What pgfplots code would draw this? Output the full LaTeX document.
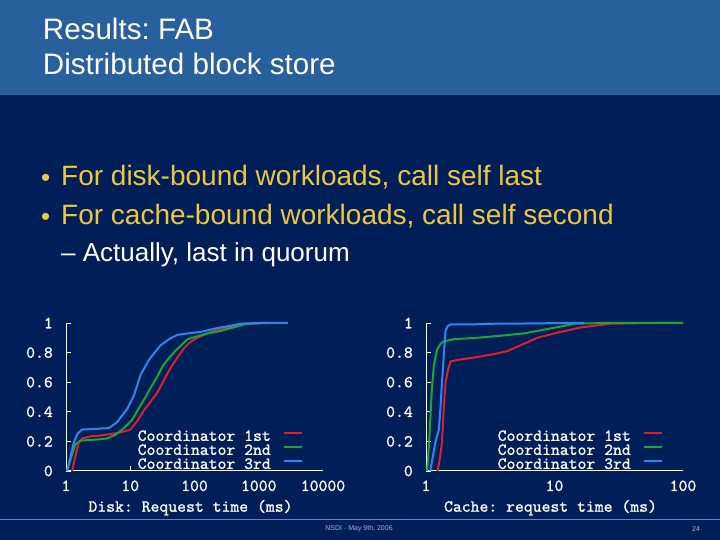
\documentclass[border=0pt]{standalone}
\usepackage{fontspec}
\setmainfont{Liberation Sans}
\newfontfamily\mono{lmmono10-regular.otf}[FakeBold=1]
\usepackage{pgfplots}
\pgfplotsset{compat=1.18}

\definecolor{bodyblue}{RGB}{0,30,87}
\definecolor{titleblue}{RGB}{40,95,157}
\definecolor{bullety}{RGB}{238,198,64}
\definecolor{footline}{RGB}{95,135,195}
\definecolor{foottext}{RGB}{165,178,210}
\definecolor{c1}{RGB}{225,30,45}
\definecolor{c2}{RGB}{30,165,55}
\definecolor{c3}{RGB}{45,135,240}

\pgfplotsset{
  cdf/.style={
    scale only axis, width=257pt, height=148pt,
    ymin=0, ymax=1,
    axis x line=bottom, axis y line=left,
    axis line style={white, -, line width=1pt},
    tick style={white, line width=0.8pt},
    major tick length=5pt, minor tick length=0pt, tick align=inside,
    extra x tick style={major tick length=0pt},
    ytick={0,0.2,0.4,0.6,0.8,1},
    yticklabels={0,0.2,0.4,0.6,0.8,1},
    tick label style={font=\mono\fontsize{16.9}{17}\selectfont, text=white, inner sep=0pt},
    yticklabel style={anchor=east, xshift=-13pt},
    xticklabel style={anchor=base, yshift=-20pt},
    every axis x label/.style={at={(axis description cs:0.5,0)}, anchor=base,
      yshift=-40.7pt, xshift=-4pt, inner sep=0pt,
      font=\mono\fontsize{16.9}{17}\selectfont, text=white},
    clip=false,
    legend plot pos=right, legend cell align=left,
    legend image code/.code={\draw[##1] (0pt,3.5pt) -- (17.7pt,3.5pt);},
    legend style={at={(0.921,0.269)}, anchor=north east, draw=none,
      fill=bodyblue, text=white, inner sep=0pt, row sep=3pt, column sep=12pt,
      font=\mono\fontsize{16.9}{17}\selectfont,
      nodes={inner sep=0pt, text height=9.5pt, text depth=1.5pt}},
    every axis plot/.append style={line width=2pt},
  }
}

\begin{document}
\frenchspacing
\begin{tikzpicture}[x=1pt,y=1pt]
\useasboundingbox (0,0) rectangle (720,540);
\fill[bodyblue] (0,0) rectangle (720,540);
\fill[titleblue] (0,445) rectangle (720,540);

% title
\node[anchor=base west, inner sep=0pt, text=white, font=\fontsize{29.6}{34}\selectfont] at (42.7,500.7) {Results: FAB};
\node[anchor=base west, inner sep=0pt, text=white, font=\fontsize{29.6}{34}\selectfont] at (42.7,465) {Distributed block store};

% bullets
\node[inner sep=0pt, text=bullety, font=\fontsize{26}{28}\selectfont] at (45.7,360) {•};
\node[anchor=base west, inner sep=0pt, text=bullety, font=\fontsize{28}{32}\selectfont] at (61,354.3) {For disk-bound workloads, call self last};
\node[inner sep=0pt, text=bullety, font=\fontsize{26}{28}\selectfont] at (45.7,320.7) {•};
\node[anchor=base west, inner sep=0pt, text=bullety, font=\fontsize{28}{32}\selectfont] at (61,315) {For cache-bound workloads, call self second};
\node[anchor=base west, inner sep=0pt, text=white, font=\fontsize{26}{30}\selectfont] at (61,278.3) {– Actually, last in quorum};

% footer
\draw[footline, line width=0.8pt] (0,20.5) -- (720,20.5);
\node[inner sep=0pt, text=foottext, font=\fontsize{7}{8}\selectfont] at (359,11) {NSDI - May 9th, 2006};
\node[inner sep=0pt, text=foottext, font=\fontsize{7}{8}\selectfont] at (696,11) {24};

\begin{axis}[cdf, xmode=log, at={(66pt,69pt)}, anchor=south west,
  xmin=1, xmax=10000,
  xtick={1,10,100,1000}, xticklabels={1,10,100,1000},
  extra x ticks={10000}, extra x tick labels={10000},
  xlabel={Disk: Request time (ms)}]
\addplot[c1] coordinates {(1.24,0) (1.40,0.10) (1.58,0.19) (1.78,0.22) (2.5,0.235) (3.5,0.24) (4.93,0.25) (7,0.26) (10.1,0.28) (13,0.34) (16.3,0.41) (20,0.46) (26.5,0.53) (33,0.61) (42.7,0.70) (55,0.77) (68.8,0.83) (85,0.87) (111,0.90) (160,0.93) (228,0.955) (350,0.975) (530,0.99) (1090,1.0) (1400,1.0)};
\addlegendentry{Coordinator 1st}
\addplot[c2] coordinates {(1.04,0) (1.2,0.09) (1.40,0.18) (1.67,0.205) (2.5,0.21) (3.5,0.215) (4.37,0.22) (5.9,0.245) (8,0.29) (10.7,0.345) (13,0.41) (16.3,0.48) (20,0.55) (26.5,0.64) (32,0.71) (37.9,0.75) (50,0.81) (77.6,0.89) (110,0.91) (160,0.93) (250,0.945) (370,0.966) (500,0.98) (635,0.995) (1370,1.0)};
\addlegendentry{Coordinator 2nd}
\addplot[c3] coordinates {(1.04,0) (1.15,0.08) (1.32,0.19) (1.5,0.25) (1.78,0.28) (3,0.285) (4.64,0.29) (6.25,0.33) (8.98,0.42) (11.4,0.51) (14.5,0.65) (19.5,0.75) (24,0.80) (29.8,0.85) (40,0.89) (54,0.92) (80,0.93) (125,0.94) (228,0.966) (350,0.98) (530,0.995) (1000,1.0) (2850,1.0)};
\addlegendentry{Coordinator 3rd}
\end{axis}

\begin{axis}[cdf, xmode=log, at={(426pt,69pt)}, anchor=south west,
  xmin=1, xmax=100,
  xtick={1,10}, xticklabels={1,10},
  extra x ticks={100}, extra x tick labels={100},
  xlabel={Cache: request time (ms)}]
\addplot[c1] coordinates {(1.23,0) (1.28,0.08) (1.33,0.19) (1.37,0.40) (1.42,0.60) (1.48,0.68) (1.55,0.74) (1.75,0.75) (2.5,0.77) (3.38,0.79) (4.29,0.81) (5.46,0.85) (7.36,0.90) (9,0.92) (11.2,0.94) (16,0.97) (27.5,0.995) (56.8,1.0)};
\addlegendentry{Coordinator 1st}
\addplot[c2] coordinates {(1.02,0) (1.05,0.15) (1.08,0.345) (1.11,0.55) (1.15,0.71) (1.22,0.82) (1.30,0.86) (1.37,0.875) (1.64,0.89) (2.5,0.90) (3.38,0.91) (4.5,0.92) (5.8,0.93) (8.3,0.955) (11,0.975) (14.3,0.995) (25,1.0) (100,1.0)};
\addlegendentry{Coordinator 2nd}
\addplot[c3] coordinates {(1.08,0) (1.12,0.08) (1.18,0.19) (1.26,0.28) (1.30,0.45) (1.33,0.59) (1.38,0.80) (1.42,0.95) (1.48,0.98) (1.55,0.99) (2.2,0.99) (3.38,0.995) (7,0.997) (11.2,1.0) (17,1.0)};
\addlegendentry{Coordinator 3rd}
\end{axis}
\end{tikzpicture}
\end{document}
